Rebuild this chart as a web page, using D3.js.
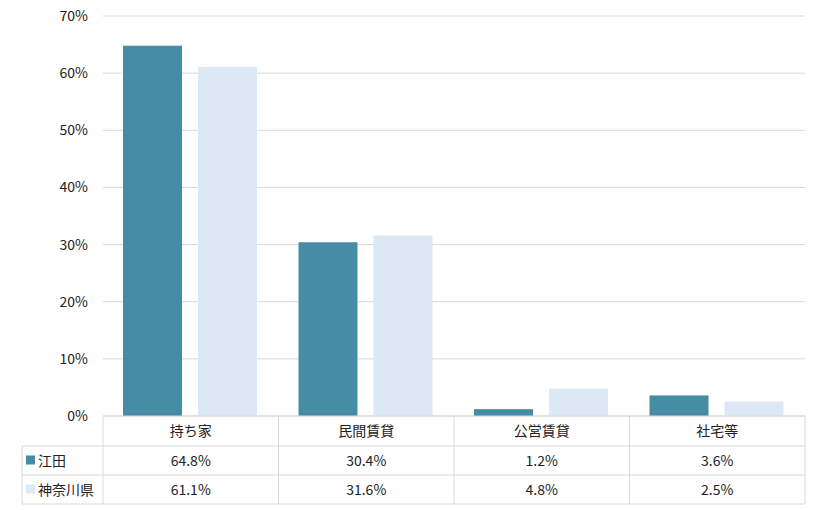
<!DOCTYPE html>
<html><head><meta charset="utf-8">
<script src="https://cdn.jsdelivr.net/npm/d3@7"></script>
<style>body{margin:0;background:#fff}text{font-family:"Noto Sans CJK JP","Noto Sans",sans-serif;fill:#222}</style>
</head><body><svg id="c" width="820" height="510"></svg>
<script>
const categories=["持ち家","民間賃貸","公営賃貸","社宅等"];
const seriesNames=["江田","神奈川県"];
const eda=[64.8,30.4,1.2,3.6];
const kanagawa=[61.1,31.6,4.8,2.5];
const yTicks=[0,10,20,30,40,50,60,70];
const colors=["#468ca5","#dce9f5"];
const svg=d3.select("#c");
const L=103,R=805,T=16,B=416;
const x=d3.scaleBand().domain(categories).range([L,R]);
const y=d3.scaleLinear().domain([0,70]).range([B,T]);
const grid="#d9d9d9";
svg.append("g").selectAll("line").data(yTicks).join("line")
 .attr("x1",L).attr("x2",R).attr("y1",d=>y(d)).attr("y2",d=>y(d)).attr("stroke",grid);
svg.append("g").selectAll("text").data(yTicks).join("text")
 .attr("x",88).attr("y",d=>y(d)+5).attr("text-anchor","end").attr("font-size",14).text(d=>d+"%");
const data=[eda,kanagawa];
const bw=59, offs=[20,95];
data.forEach((s,i)=>{
 svg.append("g").selectAll("rect").data(s).join("rect")
  .attr("x",(d,j)=>x(categories[j])+offs[i]).attr("width",bw)
  .attr("y",d=>y(d)).attr("height",d=>B-y(d)).attr("fill",colors[i]);
});
// table
const rows=[416,446,475,504], left=22;
const tl=svg.append("g").attr("stroke",grid).attr("fill","none");
tl.append("line").attr("x1",L).attr("x2",R).attr("y1",B).attr("y2",B);
[1,2,3].forEach(r=>tl.append("line").attr("x1",left).attr("x2",R).attr("y1",rows[r]).attr("y2",rows[r]));
tl.append("line").attr("x1",left).attr("x2",left).attr("y1",rows[1]).attr("y2",rows[3]);
categories.forEach(c=>tl.append("line").attr("x1",x(c)).attr("x2",x(c)).attr("y1",B).attr("y2",rows[3]));
tl.append("line").attr("x1",R).attr("x2",R).attr("y1",B).attr("y2",rows[3]);
svg.append("g").selectAll("text").data(categories).join("text")
 .attr("x",c=>x(c)+x.bandwidth()/2).attr("y",436).attr("text-anchor","middle").attr("font-size",14).text(c=>c);
data.forEach((s,i)=>{
 const cy=(rows[i+1]+rows[i+2])/2;
 svg.append("rect").attr("x",26).attr("y",cy-5).attr("width",9).attr("height",9).attr("fill",colors[i]);
 svg.append("text").attr("x",38).attr("y",cy+5).attr("font-size",14).text(seriesNames[i]);
 svg.append("g").selectAll("text").data(s).join("text")
  .attr("x",(d,j)=>x(categories[j])+x.bandwidth()/2).attr("y",cy+5).attr("text-anchor","middle").attr("font-size",14).text(d=>d.toFixed(1)+"%");
});
</script></body></html>
